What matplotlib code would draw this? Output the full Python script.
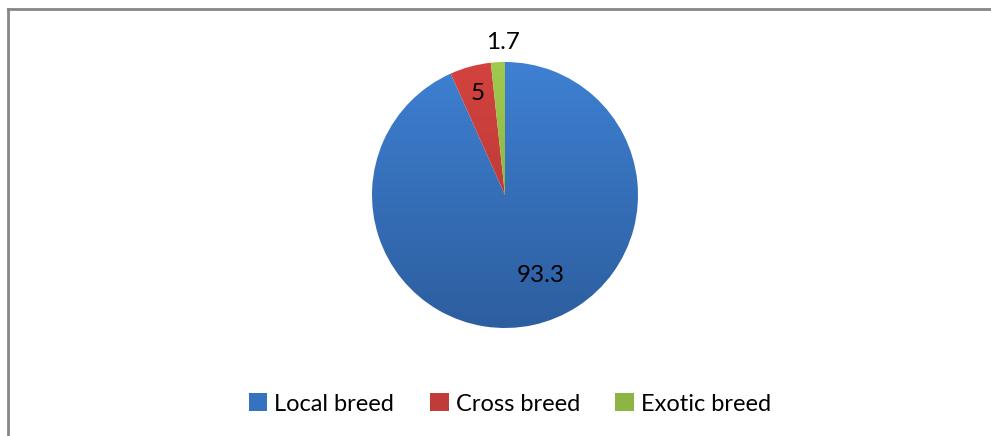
import numpy as np
import matplotlib
matplotlib.use('Agg')
import matplotlib.pyplot as plt
from matplotlib.colors import LinearSegmentedColormap
from matplotlib.lines import Line2D
from matplotlib.patches import Patch

# Data
breeds = ['Local breed', 'Cross breed', 'Exotic breed']
shares = [93.3, 5, 1.7]
value_labels = ['93.3', '5', '1.7']

# (top colour, bottom colour) for the vertical gradient of each slice
grad_colors = [('#3E80D2', '#2D5E9F'), ('#D3433F', '#AC3430'), ('#9FCA4E', '#7EA23B')]
legend_colors = ['#3572C0', '#C03C38', '#8DB544']

plt.rcParams['font.family'] = ['Lato', 'DejaVu Sans']

fig = plt.figure(figsize=(9.91, 4.36), dpi=100)
ax = fig.add_axes([0, 0, 1, 1])

# work in pixel units so the pie sits where the reference has it
cx, cy, radius = 505, 436 - 195, 133
wedges, _ = ax.pie(shares, startangle=90, counterclock=False,
                   center=(cx, cy), radius=radius, frame=False)
ax.set_aspect('equal')
ax.axis('off')

# gradient fill clipped to every wedge
gradient = np.linspace(0, 1, 256).reshape(-1, 1)
for wedge, (top, bottom) in zip(wedges, grad_colors):
    wedge.set_facecolor('none')
    wedge.set_edgecolor('none')
    cmap = LinearSegmentedColormap.from_list('g', [top, bottom])
    im = ax.imshow(gradient, cmap=cmap, aspect='auto',
                   extent=(cx - radius, cx + radius, cy - radius, cy + radius),
                   origin='upper', zorder=1)
    im.set_clip_path(wedge)
ax.set_xlim(0, 991)
ax.set_ylim(0, 436)

# value labels: radial distance and small angular shift per slice
label_dist = [0.66, 0.79, 1.15]
angle_shift = [12, 0, -2.4]
for wedge, text, d, shift in zip(wedges, value_labels, label_dist, angle_shift):
    mid = np.deg2rad((wedge.theta1 + wedge.theta2) / 2 + shift)
    ax.text(cx + radius * d * np.cos(mid), cy + radius * d * np.sin(mid), text,
            ha='center', va='center', fontsize=17.5, color='black', zorder=3)

# chart border (only top and left edges visible in the crop)
fig.add_artist(Line2D([7.5 / 991, 1], [1 - 9.5 / 436, 1 - 9.5 / 436],
                      transform=fig.transFigure, color='#868686', lw=2))
fig.add_artist(Line2D([7.5 / 991, 7.5 / 991], [0, 1 - 9.5 / 436],
                      transform=fig.transFigure, color='#868686', lw=2))

handles = [Patch(facecolor=c, edgecolor='none') for c in legend_colors]
fig.legend(handles, breeds, loc='center', bbox_to_anchor=(510 / 991, 1 - 404 / 436),
           ncol=3, frameon=False, fontsize=17, handlelength=0.8, handleheight=0.8,
           handletextpad=0.3, columnspacing=1.5)

fig.savefig('out.png', dpi=100, facecolor='white')
